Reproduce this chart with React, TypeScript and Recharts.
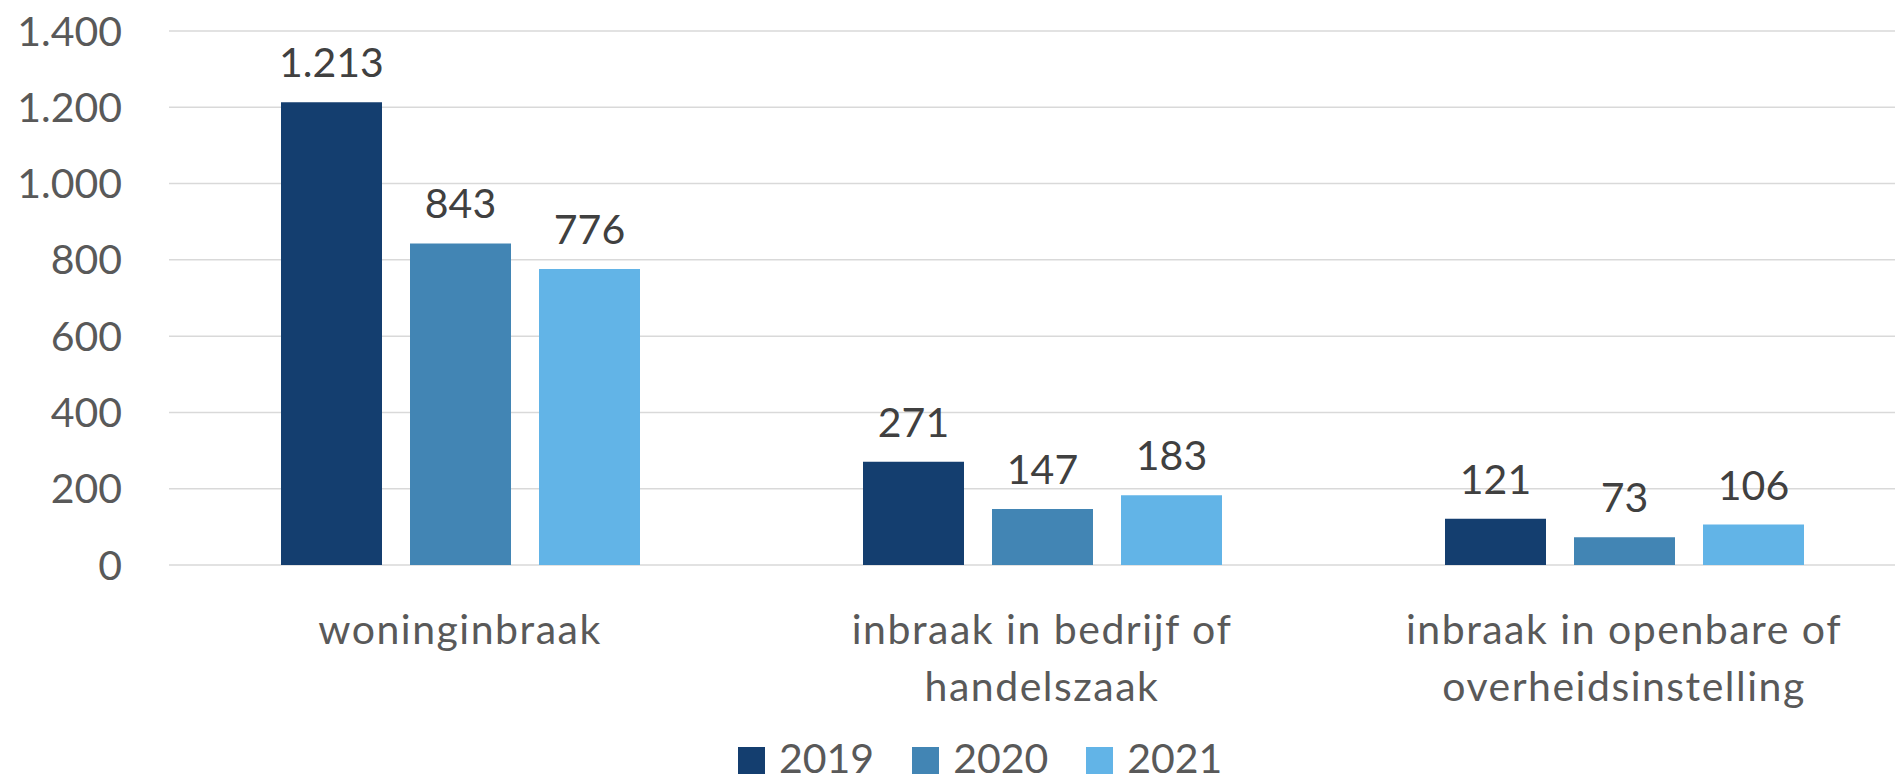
import React from 'react';
import { BarChart, Bar, XAxis, YAxis, CartesianGrid, LabelList } from 'recharts';

const categories = ['woninginbraak', 'inbraak in bedrijf of handelszaak', 'inbraak in openbare of overheidsinstelling'];
const categoryLines = [['woninginbraak'], ['inbraak in bedrijf of', 'handelszaak'], ['inbraak in openbare of', 'overheidsinstelling']];
const years = ['2019', '2020', '2021'];
const values2019 = [1213, 271, 121];
const values2020 = [843, 147, 73];
const values2021 = [776, 183, 106];
const yTicks = [0, 200, 400, 600, 800, 1000, 1200, 1400];
const colors = ['#143e6f', '#4285b4', '#62b4e7'];

const data = categories.map((c, i) => ({
    category: c,
    '2019': values2019[i],
    '2020': values2020[i],
    '2021': values2021[i],
}));

const font = 'Lato, Calibri, sans-serif';

// dutch thousands separator
const fmt = (v: number) => String(v).replace(/\B(?=(\d{3})+(?!\d))/g, '.');

const CategoryTick = (props: any) => {
    const { x, y, payload } = props;
    const idx = categories.indexOf(payload.value);
    const lines = idx >= 0 ? categoryLines[idx] : [payload.value];
    return (
        <text x={x} y={y} textAnchor="middle" fill="#595959" fontSize={41} fontFamily={font} letterSpacing={1.5}>
            {lines.map((line, i) => (
                <tspan key={i} x={x} dy={i === 0 ? 79 : 57}>{line}</tspan>
            ))}
        </text>
    );
};

export default function App() {
    return (
        <div style={{ position: 'relative', width: 1895, height: 783, overflow: 'hidden', background: '#fff', fontFamily: font }}>
            <style>{'body{margin:0;overflow:hidden}'}</style>
            <BarChart
                width={1915}
                height={783}
                data={data}
                margin={{ top: 31, right: 0, left: 0, bottom: 0 }}
                barSize={101}
                barGap={28}
            >
                <CartesianGrid vertical={false} stroke="#d9d9d9" strokeWidth={1.5} />
                <XAxis
                    dataKey="category"
                    height={218}
                    axisLine={false}
                    tickLine={false}
                    tickSize={0}
                    tickMargin={0}
                    interval={0}
                    tick={<CategoryTick />}
                />
                <YAxis
                    width={169}
                    domain={[0, 1400]}
                    ticks={yTicks}
                    interval={0}
                    axisLine={false}
                    tickLine={false}
                    tickSize={0}
                    tickMargin={47}
                    tickFormatter={fmt}
                    tick={{ fill: '#595959', fontSize: 41, fontFamily: font }}
                />
                {years.map((yr, i) => (
                    <Bar key={yr} dataKey={yr} fill={colors[i]} isAnimationActive={false}>
                        <LabelList
                            dataKey={yr}
                            position="top"
                            offset={25}
                            formatter={(v: any) => fmt(Number(v))}
                            fill="#404040"
                            fontSize={41}
                            fontFamily={font}
                        />
                    </Bar>
                ))}
            </BarChart>
            <div style={{ position: 'absolute', left: 738, top: 743, display: 'flex', alignItems: 'flex-start' }}>
                {years.map((yr, i) => (
                    <div key={yr} style={{ display: 'flex', alignItems: 'flex-start', marginLeft: i === 0 ? 0 : 38 }}>
                        <div style={{ width: 27, height: 27, marginTop: 4, background: colors[i] }} />
                        <span style={{ marginLeft: 14, fontSize: 41, lineHeight: '30px', color: '#595959' }}>{yr}</span>
                    </div>
                ))}
            </div>
        </div>
    );
}
